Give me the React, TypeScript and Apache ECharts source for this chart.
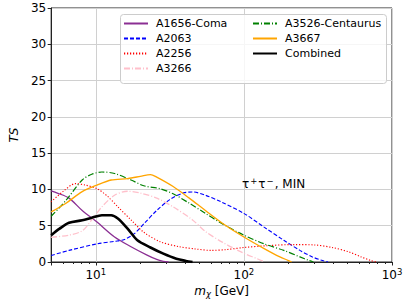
import React, { useEffect, useRef } from "react";
import * as echarts from "echarts";

// [mass (GeV), TS]
const coma = [[5, 9.8], [5.5, 9.5], [6.6, 8.8], [8.1, 7.1], [10.2, 5.5], [13.4, 3.45], [17.3, 2.1], [22.2, 0.95], [25.8, 0.35], [28.6, 0.1], [31, 0]];
const a2063 = [[5, 0.9], [6.6, 1.6], [10.2, 2.5], [13.4, 2.85], [15.6, 3.1], [18.2, 3.9], [21.2, 5.3], [25.8, 7.1], [31.6, 8.6], [38.8, 9.5], [45, 9.65], [55, 9.2], [70, 8.3], [100, 6.7], [137, 4.8], [186, 3.0], [239, 1.6], [290, 0.7], [340, 0.2], [370, 0]];
const a2256 = [[5, 8.3], [6, 9.7], [7.3, 10.8], [8.5, 10.6], [10.2, 10.1], [12.1, 9.0], [14.1, 7.6], [17.3, 5.8], [21.1, 4.1], [27.2, 2.8], [36.8, 2.1], [47, 1.8], [60, 1.6], [75, 1.7], [100, 2.0], [144, 2.25], [215, 2.4], [300, 2.35], [394, 2.0], [509, 1.4], [620, 0.7], [720, 0.2], [780, 0]];
const a3266 = [[5, 3.4], [6.6, 3.7], [8.1, 4.3], [9.4, 5.8], [11, 7.6], [13.4, 9.2], [16.4, 9.75], [20, 9.5], [25.8, 8.8], [33.3, 7.6], [45, 5.8], [55, 4.2], [72, 2.7], [100, 1.2], [123, 0.45], [138, 0]];
const a3526 = [[5, 6.3], [6.3, 8.5], [8.1, 11.3], [9.4, 12.1], [11, 12.4], [13.4, 12.2], [17.3, 11.3], [21.1, 10.5], [27.2, 10.1], [33.3, 9.4], [42.8, 8.1], [55, 6.7], [71, 5.3], [100, 3.7], [137, 2.5], [186, 1.6], [239, 0.7], [276, 0.2], [295, 0]];
const a3667 = [[5, 6.9], [6.3, 8.1], [8.1, 9.7], [10.2, 10.6], [12.7, 11.3], [16.4, 11.5], [20, 11.8], [23.4, 12.05], [25.8, 11.7], [33.3, 10.4], [42.8, 8.8], [55, 7.1], [74.5, 5.1], [100, 3.45], [137, 1.85], [175, 0.7], [200, 0.2], [210, 0]];
const combined = [[5, 3.7], [5.7, 4.6], [6.6, 5.4], [8.1, 5.75], [9.4, 6.1], [11, 6.45], [12.7, 6.45], [14.1, 6.0], [16.4, 4.6], [19.1, 3.0], [23.4, 2.0], [28.6, 1.15], [35, 0.45], [40.6, 0.15], [45, 0]];

const seriesNames = ["A1656-Coma", "A2063", "A2256", "A3266", "A3526-Centaurus", "A3667", "Combined"];
const xMinorTicks = [6, 7, 8, 9, 20, 30, 40, 50, 60, 70, 80, 90, 200, 300, 400, 500, 600, 700, 800, 900];
const yMin = 0, yMax = 35, yStep = 5;
const xMin = 5, xMax = 1000;

const FONT = "DejaVu Sans";

export default function App() {
  const ref = useRef<HTMLDivElement>(null);
  useEffect(() => {
    const chart = echarts.init(ref.current!, null, { renderer: "svg" });
    const mk = (name: string, data: number[][], color: string, type: any, width: number) => ({
      name,
      type: "line",
      data,
      xAxisIndex: 0,
      symbol: "none",
      smooth: 0.3,
      lineStyle: { color, type, width },
      itemStyle: { color },
      z: 3,
    });
    const legendText = { fontSize: 11, fontFamily: FONT, color: "#000", padding: [0, 0, 0, 3] };
    const legendBase = {
      orient: "vertical",
      top: 18,
      padding: 0,
      itemWidth: 24,
      itemHeight: 12,
      itemGap: 4,
      textStyle: legendText,
      itemStyle: { color: "transparent", borderColor: "transparent", borderWidth: 0, opacity: 0 },
      z: 10,
    };
    chart.setOption({
      animation: false,
      grid: { left: 42, right: 15, top: 8, bottom: 43, show: true, borderColor: "#222", borderWidth: 1, backgroundColor: "transparent" },
      xAxis: [
        {
          type: "log",
          logBase: 10,
          min: xMin,
          max: xMax,
          position: "bottom",
          name: "{i|m}{sub|χ} [GeV]",
          nameLocation: "middle",
          nameGap: 17,
          nameTextStyle: {
            fontSize: 12,
            fontFamily: FONT,
            color: "#000",
            rich: {
              i: { fontStyle: "italic", fontSize: 12, fontFamily: FONT, color: "#000" },
              sub: { fontStyle: "italic", fontSize: 8.5, fontFamily: FONT, color: "#000", verticalAlign: "bottom", padding: [6, 0, 0, 0] },
            },
          },
          axisLine: { show: true, lineStyle: { color: "#222", width: 1 } },
          axisTick: { show: true, length: 3.5, lineStyle: { color: "#222" } },
          axisLabel: {
            margin: 5,
            fontSize: 12,
            fontFamily: FONT,
            color: "#000",
            formatter: (v: number) => {
              const e = Math.round(Math.log10(v));
              return Math.abs(Math.pow(10, e) - v) < 1e-6 * v ? `10{sup|${e}}` : "";
            },
            rich: {
              sup: { fontSize: 8.5, fontFamily: FONT, color: "#000", verticalAlign: "top", padding: [0, 0, 6, 0] },
            },
          },
          splitLine: { show: true, lineStyle: { color: "#d0d0d0", width: 1 } },
        },
        {
          type: "value",
          min: Math.log10(xMin),
          max: Math.log10(xMax),
          position: "bottom",
          axisLine: { show: false },
          axisLabel: { show: false },
          splitLine: { show: false },
          axisTick: { show: true, length: 2, lineStyle: { color: "#222" }, customValues: xMinorTicks.map((t) => Math.log10(t)) },
        },
      ],
      yAxis: {
        type: "value",
        min: yMin,
        max: yMax,
        interval: yStep,
        name: "TS",
        nameLocation: "middle",
        nameGap: 31,
        nameTextStyle: { fontSize: 12, fontFamily: FONT, fontStyle: "italic", color: "#000" },
        axisLine: { show: true, lineStyle: { color: "#222", width: 1 } },
        axisTick: { show: true, length: 3.5, lineStyle: { color: "#222" } },
        axisLabel: { margin: 5, fontSize: 12, fontFamily: FONT, color: "#000" },
        splitLine: { show: true, lineStyle: { color: "#d0d0d0", width: 1 } },
      },
      legend: [
        { ...legendBase, data: seriesNames.slice(0, 4), left: 123 },
        { ...legendBase, data: seriesNames.slice(4), left: 252 },
      ],
      graphic: [
        {
          type: "rect",
          left: 120,
          top: 14,
          shape: { width: 266, height: 69, r: 3 },
          style: { fill: "rgba(255,255,255,0.8)", stroke: "#cccccc", lineWidth: 1 },
          z: 8,
        },
        {
          type: "text",
          left: 242,
          top: 176,
          style: {
            text: "τ{sup|+}τ{sup|−}, MIN",
            fontSize: 12,
            fontFamily: FONT,
            fill: "#000",
            rich: {
              sup: { fontSize: 8.5, fontFamily: FONT, fill: "#000", verticalAlign: "top", padding: [0, 1, 6, 1] },
            },
          },
          z: 9,
        },
      ],
      series: [
        mk(seriesNames[0], coma, "#8b2f93", "solid", 1.3),
        mk(seriesNames[1], a2063, "#0000ff", [4, 2], 1.1),
        mk(seriesNames[2], a2256, "#ff0000", [1.2, 1.8], 1.1),
        mk(seriesNames[3], a3266, "#ffc0cb", [6, 2, 1, 2], 1.3),
        mk(seriesNames[4], a3526, "#008000", [6, 2, 1, 2], 1.2),
        mk(seriesNames[5], a3667, "#ffa500", "solid", 1.3),
        mk(seriesNames[6], combined, "#000000", "solid", 2.6),
      ],
    });
    return () => chart.dispose();
  }, []);
  return <div ref={ref} style={{ position: "absolute", left: 0, top: 0, width: 407, height: 305 }} />;
}
